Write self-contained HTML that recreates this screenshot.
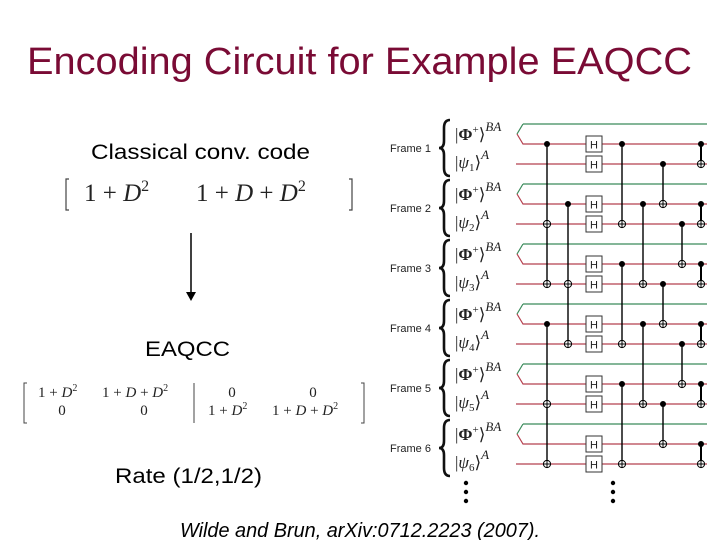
<!DOCTYPE html>
<html><head><meta charset="utf-8"><style>
html,body{margin:0;padding:0;background:#fff;}
svg{display:block;}
</style></head><body>
<svg width="720" height="540" viewBox="0 0 720 540" xmlns="http://www.w3.org/2000/svg">
<rect width="720" height="540" fill="#fff"/>
<text x="27" y="74" textLength="665" lengthAdjust="spacingAndGlyphs" font-family="Liberation Sans, sans-serif" font-size="38" fill="#7a0b35">Encoding Circuit for Example EAQCC</text>
<text x="91" y="159" textLength="219" lengthAdjust="spacingAndGlyphs" font-family="Liberation Sans, sans-serif" font-size="21" fill="#000">Classical conv. code</text>
<g font-family="Liberation Serif, serif" font-size="25" fill="#222">
<path d="M69 179 h-3 v31 h3" fill="none" stroke="#444" stroke-width="1.2"/>
<text x="84" y="201">1 + <tspan font-style="italic">D</tspan><tspan font-size="16" dy="-10">2</tspan></text>
<text x="196" y="201">1 + <tspan font-style="italic">D</tspan> + <tspan font-style="italic">D</tspan><tspan font-size="16" dy="-10">2</tspan></text>
<path d="M349 179 h3 v31 h-3" fill="none" stroke="#444" stroke-width="1.2"/>
</g>
<line x1="191" y1="233" x2="191" y2="293" stroke="#000" stroke-width="1.5"/>
<polygon points="186,292 196,292 191,301" fill="#000"/>
<text x="145" y="356" textLength="85" lengthAdjust="spacingAndGlyphs" font-family="Liberation Sans, sans-serif" font-size="21" fill="#000">EAQCC</text>
<g font-family="Liberation Serif, serif" font-size="15" fill="#222">
<path d="M27 383 h-3 v40 h3" fill="none" stroke="#444" stroke-width="1"/>
<text x="38" y="397">1 + <tspan font-style="italic">D</tspan><tspan font-size="10" dy="-6">2</tspan></text>
<text x="62" y="415" text-anchor="middle">0</text>
<text x="102" y="397">1 + <tspan font-style="italic">D</tspan> + <tspan font-style="italic">D</tspan><tspan font-size="10" dy="-6">2</tspan></text>
<text x="144" y="415" text-anchor="middle">0</text>
<line x1="194" y1="383" x2="194" y2="423" stroke="#444" stroke-width="1"/>
<text x="232" y="397" text-anchor="middle">0</text>
<text x="208" y="415">1 + <tspan font-style="italic">D</tspan><tspan font-size="10" dy="-6">2</tspan></text>
<text x="313" y="397" text-anchor="middle">0</text>
<text x="272" y="415">1 + <tspan font-style="italic">D</tspan> + <tspan font-style="italic">D</tspan><tspan font-size="10" dy="-6">2</tspan></text>
<path d="M361 383 h3 v40 h-3" fill="none" stroke="#444" stroke-width="1"/>
</g>
<text x="115" y="483" textLength="147" lengthAdjust="spacingAndGlyphs" font-family="Liberation Sans, sans-serif" font-size="21" fill="#000">Rate (1/2,1/2)</text>
<text x="180" y="537" textLength="360" lengthAdjust="spacingAndGlyphs" font-family="Liberation Sans, sans-serif" font-size="20" font-style="italic" fill="#000">Wilde and Brun, arXiv:0712.2223 (2007).</text>

<defs>
<g id="fl">
<path d="M450 120 Q444 120 444 128 L444 141 Q444 148 439 148 Q444 148 444 155 L444 168 Q444 176 450 176" fill="none" stroke="#111" stroke-width="2.6"/>
<text x="455" y="140" font-family="Liberation Serif, serif" font-size="17" fill="#222">|<tspan font-weight="bold">Φ</tspan><tspan font-size="11" dy="-7">+</tspan><tspan dy="7">⟩</tspan><tspan font-size="13" font-style="italic" dy="-9">BA</tspan></text>
</g>
</defs>
<g font-family="Liberation Sans, sans-serif">
<g><use href="#fl"/><text x="390" y="152" font-size="11" fill="#222">Frame 1</text><text x="455" y="168" font-family="Liberation Serif, serif" font-size="17" fill="#222">|<tspan font-style="italic">ψ</tspan><tspan font-size="11" dy="3">1</tspan><tspan dy="-3">⟩</tspan><tspan font-size="13" font-style="italic" dy="-9">A</tspan></text></g>
<g transform="translate(0,60)"><use href="#fl"/><text x="390" y="152" font-size="11" fill="#222">Frame 2</text><text x="455" y="168" font-family="Liberation Serif, serif" font-size="17" fill="#222">|<tspan font-style="italic">ψ</tspan><tspan font-size="11" dy="3">2</tspan><tspan dy="-3">⟩</tspan><tspan font-size="13" font-style="italic" dy="-9">A</tspan></text></g>
<g transform="translate(0,120)"><use href="#fl"/><text x="390" y="152" font-size="11" fill="#222">Frame 3</text><text x="455" y="168" font-family="Liberation Serif, serif" font-size="17" fill="#222">|<tspan font-style="italic">ψ</tspan><tspan font-size="11" dy="3">3</tspan><tspan dy="-3">⟩</tspan><tspan font-size="13" font-style="italic" dy="-9">A</tspan></text></g>
<g transform="translate(0,180)"><use href="#fl"/><text x="390" y="152" font-size="11" fill="#222">Frame 4</text><text x="455" y="168" font-family="Liberation Serif, serif" font-size="17" fill="#222">|<tspan font-style="italic">ψ</tspan><tspan font-size="11" dy="3">4</tspan><tspan dy="-3">⟩</tspan><tspan font-size="13" font-style="italic" dy="-9">A</tspan></text></g>
<g transform="translate(0,240)"><use href="#fl"/><text x="390" y="152" font-size="11" fill="#222">Frame 5</text><text x="455" y="168" font-family="Liberation Serif, serif" font-size="17" fill="#222">|<tspan font-style="italic">ψ</tspan><tspan font-size="11" dy="3">5</tspan><tspan dy="-3">⟩</tspan><tspan font-size="13" font-style="italic" dy="-9">A</tspan></text></g>
<g transform="translate(0,300)"><use href="#fl"/><text x="390" y="152" font-size="11" fill="#222">Frame 6</text><text x="455" y="168" font-family="Liberation Serif, serif" font-size="17" fill="#222">|<tspan font-style="italic">ψ</tspan><tspan font-size="11" dy="3">6</tspan><tspan dy="-3">⟩</tspan><tspan font-size="13" font-style="italic" dy="-9">A</tspan></text></g>
</g>

<g fill="none" stroke-width="1.2">
<g id="w"><path d="M523 124 L517 134" stroke="#3a8a5a"/><path d="M523 124 H707" stroke="#3a8a5a"/><path d="M517 134 L523 144 H707" stroke="#b5404f"/><path d="M516 164 H707" stroke="#b5404f"/></g>
<use href="#w" y="60"/><use href="#w" y="120"/><use href="#w" y="180"/><use href="#w" y="240"/><use href="#w" y="300"/>
</g>

<g stroke="#000" stroke-width="1.4">
<line x1="547" y1="144" x2="547" y2="284"/><line x1="547" y1="324" x2="547" y2="464"/>
<line x1="568" y1="204" x2="568" y2="344"/>
<line x1="622" y1="144" x2="622" y2="224"/><line x1="622" y1="264" x2="622" y2="344"/><line x1="622" y1="384" x2="622" y2="464"/>
<line x1="643" y1="204" x2="643" y2="284"/><line x1="643" y1="324" x2="643" y2="404"/>
<line x1="663" y1="164" x2="663" y2="204"/><line x1="663" y1="284" x2="663" y2="324"/><line x1="663" y1="404" x2="663" y2="444"/>
<line x1="682" y1="224" x2="682" y2="264"/><line x1="682" y1="344" x2="682" y2="384"/>
<line x1="701" y1="144" x2="701" y2="164" stroke-width="2"/><line x1="701" y1="204" x2="701" y2="224" stroke-width="2"/><line x1="701" y1="264" x2="701" y2="284" stroke-width="2"/><line x1="701" y1="324" x2="701" y2="344" stroke-width="2"/><line x1="701" y1="384" x2="701" y2="404" stroke-width="2"/><line x1="701" y1="444" x2="701" y2="464" stroke-width="2"/>
</g>
<g fill="#000">
<circle cx="547" cy="144" r="3"/><circle cx="547" cy="324" r="3"/>
<circle cx="568" cy="204" r="3"/>
<circle cx="622" cy="144" r="3"/><circle cx="622" cy="264" r="3"/><circle cx="622" cy="384" r="3"/>
<circle cx="643" cy="204" r="3"/><circle cx="643" cy="324" r="3"/>
<circle cx="663" cy="164" r="3"/><circle cx="663" cy="284" r="3"/><circle cx="663" cy="404" r="3"/>
<circle cx="682" cy="224" r="3"/><circle cx="682" cy="344" r="3"/>
<circle cx="701" cy="144" r="3"/><circle cx="701" cy="204" r="3"/><circle cx="701" cy="264" r="3"/><circle cx="701" cy="324" r="3"/><circle cx="701" cy="384" r="3"/><circle cx="701" cy="444" r="3"/>
<circle cx="466" cy="483" r="2.2"/><circle cx="466" cy="492" r="2.2"/><circle cx="466" cy="501" r="2.2"/>
<circle cx="613" cy="483" r="2.2"/><circle cx="613" cy="492" r="2.2"/><circle cx="613" cy="501" r="2.2"/>
</g>
<defs><g id="t"><circle r="3.6" fill="#fff" stroke="#000" stroke-width="1"/><path d="M-3.6 0H3.6M0 -3.6V3.6" stroke="#000" stroke-width="1"/></g></defs>
<use href="#t" x="547" y="224"/><use href="#t" x="547" y="284"/><use href="#t" x="547" y="404"/><use href="#t" x="547" y="464"/>
<use href="#t" x="568" y="284"/><use href="#t" x="568" y="344"/>
<use href="#t" x="622" y="224"/><use href="#t" x="622" y="344"/><use href="#t" x="622" y="464"/>
<use href="#t" x="643" y="284"/><use href="#t" x="643" y="404"/>
<use href="#t" x="663" y="204"/><use href="#t" x="663" y="324"/><use href="#t" x="663" y="444"/>
<use href="#t" x="682" y="264"/><use href="#t" x="682" y="384"/>
<use href="#t" x="701" y="164"/><use href="#t" x="701" y="224"/><use href="#t" x="701" y="284"/><use href="#t" x="701" y="344"/><use href="#t" x="701" y="404"/><use href="#t" x="701" y="464"/>
<defs><g id="h"><rect x="-8" y="-8" width="16" height="16" fill="#fff" stroke="#333" stroke-width="1"/><text x="0" y="4.5" text-anchor="middle" font-family="Liberation Sans, sans-serif" font-size="11" fill="#222">H</text></g></defs>
<use href="#h" x="594" y="144"/><use href="#h" x="594" y="164"/>
<use href="#h" x="594" y="204"/><use href="#h" x="594" y="224"/>
<use href="#h" x="594" y="264"/><use href="#h" x="594" y="284"/>
<use href="#h" x="594" y="324"/><use href="#h" x="594" y="344"/>
<use href="#h" x="594" y="384"/><use href="#h" x="594" y="404"/>
<use href="#h" x="594" y="444"/><use href="#h" x="594" y="464"/>
</svg>
</body></html>
